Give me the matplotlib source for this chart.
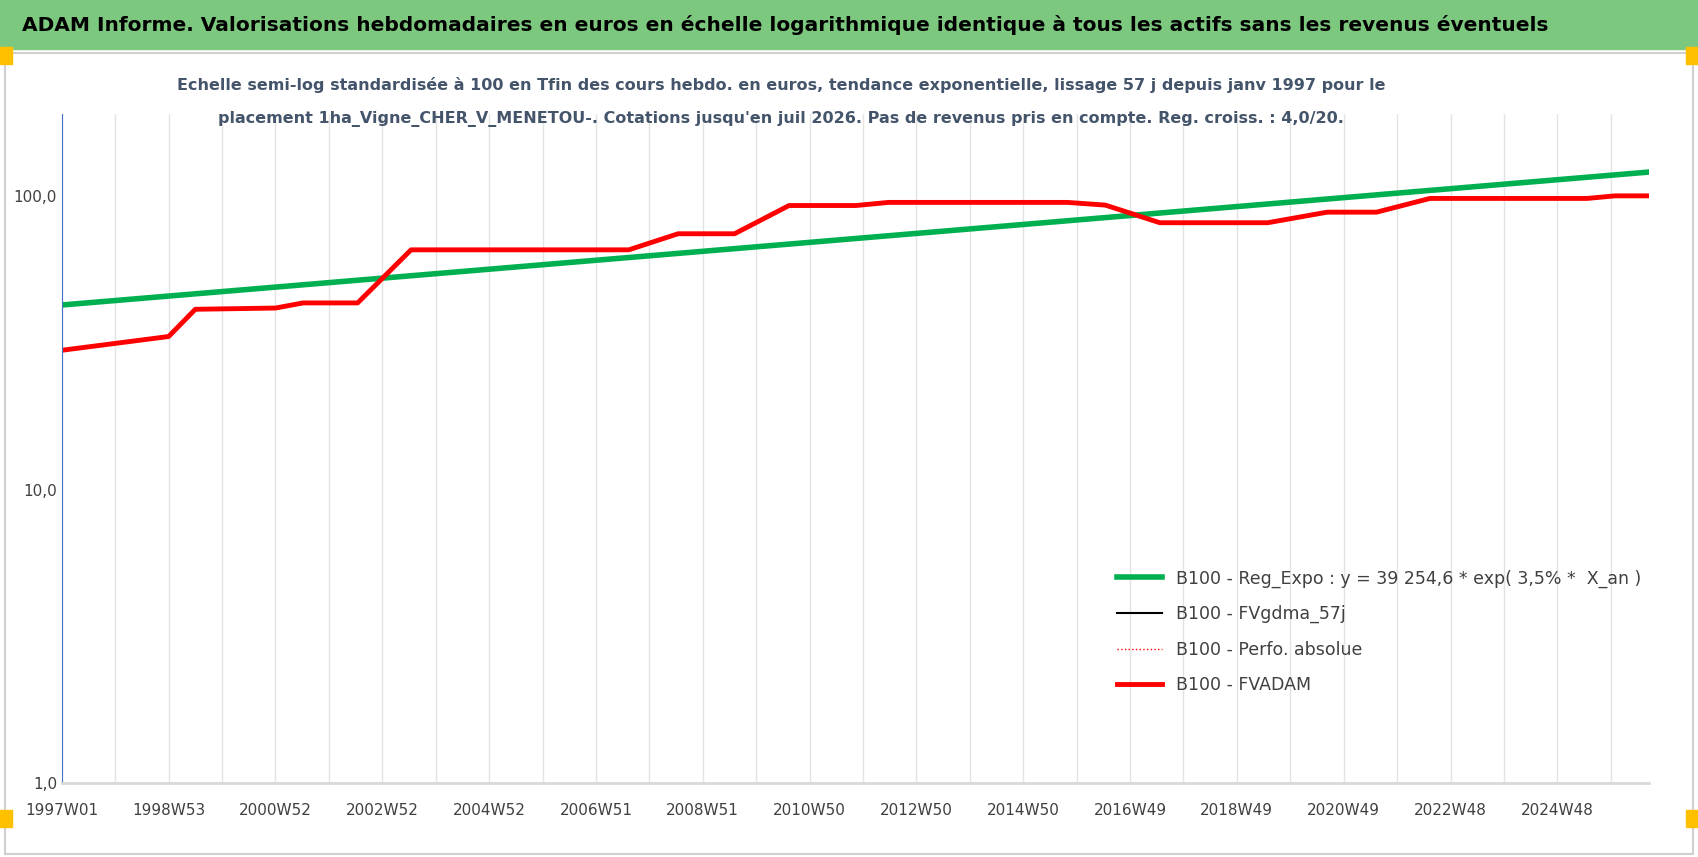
import numpy as np
import matplotlib
matplotlib.use("Agg")
import matplotlib.pyplot as plt
from matplotlib.patches import Rectangle

plt.rcParams['font.family'] = ['DejaVu Sans']

# week index (0 = 1997W01) and values
red_w = [0, 104, 130, 208, 235, 288, 340, 552, 600, 655, 708, 773, 805, 979, 1016, 1069,
         1174, 1232, 1280, 1332, 1485, 1512, 1545]
red_v = [29.8, 33.2, 41.1, 41.5, 43.2, 43.2, 65.5, 65.5, 74.3, 74.3, 92.7, 92.7, 95.0,
         95.0, 93.0, 81.0, 81.0, 88.0, 88.0, 98.0, 98.0, 100.0, 100.0]
green_w = [0, 1545]
green_v = [42.5, 120.5]
tick_labels = ["1997W01", "1998W53", "2000W52", "2002W52", "2004W52", "2006W51", "2008W51",
               "2010W50", "2012W50", "2014W50", "2016W49", "2018W49", "2020W49", "2022W48",
               "2024W48"]
tick_w = [104 * i for i in range(len(tick_labels))]

W, H = 1698, 857
fig = plt.figure(figsize=(W / 100, H / 100), dpi=100)

# header band
fig.patches.append(Rectangle((0, 0.943), 1, 0.057, transform=fig.transFigure,
                             color="#7dc87f", zorder=0))
fig.text(0.013, 0.971, "ADAM Informe. Valorisations hebdomadaires en euros en échelle logarithmique identique à tous les actifs sans les revenus éventuels",
         fontsize=14.5, fontweight="bold", va="center", ha="left", color="black")
fig.patches.append(Rectangle((0.003, 0.003), 0.994, 0.935, transform=fig.transFigure,
                             fill=False, edgecolor="#d0d0d0", lw=1.5))
for x in (0.0, 0.993):
    for y in (0.925, 0.035):
        fig.patches.append(Rectangle((x, y), 0.007, 0.02, transform=fig.transFigure,
                                     color="#ffc000"))

fig.text(0.46, 0.901, "Echelle semi-log standardisée à 100 en Tfin des cours hebdo. en euros, tendance exponentielle, lissage 57 j depuis janv 1997 pour le",
         ha="center", va="center", fontsize=11.5, fontweight="bold", color="#44546a")
fig.text(0.46, 0.861, "placement 1ha_Vigne_CHER_V_MENETOU-. Cotations jusqu'en juil 2026. Pas de revenus pris en compte. Reg. croiss. : 4,0/20.",
         ha="center", va="center", fontsize=11.5, fontweight="bold", color="#44546a")

ax = fig.add_axes([0.0364, 0.086, 0.9346, 0.781])
ax.set_yscale("log")
ax.set_ylim(1, 190)
ax.set_xlim(0, 1545)

ax.plot(green_w, green_v, color="#00b050", lw=4, label="B100 - Reg_Expo : y = 39 254,6 * exp( 3,5% *  X_an )")
ax.plot(red_w, red_v, color="black", lw=1.5, label="B100 - FVgdma_57j")
ax.plot(red_w, red_v, color="red", lw=1, ls=":", label="B100 - Perfo. absolue")
ax.plot(red_w, red_v, color="red", lw=3.5, label="B100 - FVADAM")

ax.set_yticks([1, 10, 100])
ax.set_yticklabels(["1,0", "10,0", "100,0"])
ax.minorticks_off()
ax.set_xticks(tick_w)
ax.set_xticklabels(tick_labels)
ax.set_xticks([52 + 104 * i for i in range(15)], minor=True)
ax.grid(True, axis="x", which="both", color="#e3e3e3", lw=1)
ax.tick_params(axis="both", which="both", length=0, labelsize=11, colors="#404040")
ax.tick_params(axis="x", pad=14)
for s in ("top", "right"):
    ax.spines[s].set_visible(False)
ax.spines["left"].set_color("#4472c4")
ax.spines["bottom"].set_color("#d9d9d9")
ax.spines["bottom"].set_linewidth(2)

leg = ax.legend(loc="lower left", bbox_to_anchor=(0.655, 0.11), frameon=False,
                fontsize=12.5, handlelength=2.6, labelspacing=1.0)
for t in leg.get_texts():
    t.set_color("#404040")

fig.savefig("out.png", dpi=100)
